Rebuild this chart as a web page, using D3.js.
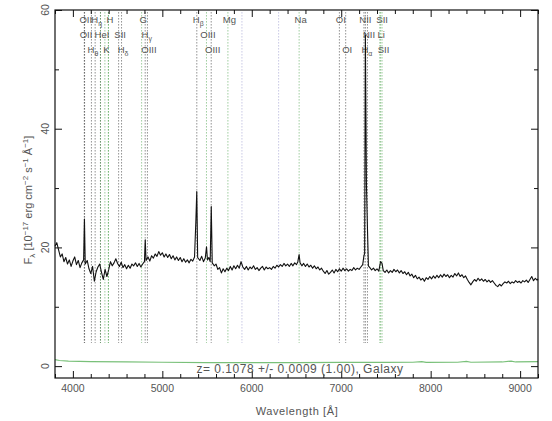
<!DOCTYPE html>
<html><head><meta charset="utf-8">
<script src="https://cdn.jsdelivr.net/npm/d3@7/dist/d3.min.js"></script>
<style>body{margin:0;background:#fff;} svg{display:block;}</style>
</head><body><svg id="c" width="552" height="421"></svg>
<script>
const redshift = 0.1078;
const zText = "z= 0.1078 +/- 0.0009 (1.00), Galaxy";
// observed wavelength [Å], flux [1e-17 erg/cm2/s/Å]
const spectrum = [
[3800,20.2],[3820,20.8],[3840,19.6],[3860,18.4],[3880,18.9],[3900,17.6],[3920,18.3],[3940,17.2],[3960,17.9],[3980,16.8],
[4000,17.7],[4020,18.4],[4040,17.1],[4060,17.8],[4080,16.6],[4100,17.4],[4120,17.9],[4129,24.8],[4138,17.2],[4160,17.8],
[4180,16.4],[4200,15.6],[4220,16.8],[4240,14.3],[4260,15.9],[4280,16.7],[4300,17.2],[4320,15.8],[4340,14.6],[4360,16.3],
[4380,15.1],[4400,16.2],[4420,17.6],[4440,16.9],[4460,17.4],[4480,18.1],[4500,17.3],[4520,16.8],[4540,17.5],[4560,16.6],
[4580,17.1],[4600,16.4],[4620,17.0],[4640,16.5],[4660,17.2],[4680,16.9],[4700,17.4],[4720,16.8],[4740,17.3],[4760,16.7],
[4780,17.2],[4800,17.6],[4809,21.3],[4818,17.8],[4840,18.4],[4860,17.7],[4880,18.6],[4900,18.2],[4920,18.9],[4940,18.5],
[4960,19.3],[4980,18.7],[5000,19.1],[5020,18.4],[5040,18.9],[5060,18.3],[5080,18.8],[5100,18.1],[5120,18.6],[5140,17.9],
[5160,18.4],[5180,17.8],[5200,18.3],[5220,17.6],[5240,18.1],[5260,17.5],[5280,17.9],[5300,17.4],[5320,18.0],[5340,17.7],
[5360,18.4],[5375,24.5],[5385,29.4],[5395,18.3],[5420,17.8],[5440,18.5],[5460,17.6],[5480,18.2],[5494,20.1],[5505,17.9],
[5520,18.3],[5535,17.6],[5547,26.9],[5558,17.4],[5580,16.9],[5600,17.2],[5620,16.3],[5640,16.6],[5660,15.7],[5680,16.4],
[5700,15.9],[5720,16.5],[5740,16.1],[5760,16.8],[5780,16.2],[5800,16.9],[5820,16.4],[5840,17.0],[5860,16.5],[5880,17.6],
[5900,16.7],[5920,16.3],[5940,16.8],[5960,16.2],[5980,16.7],[6000,16.4],[6020,16.9],[6040,16.3],[6060,16.6],[6080,16.1],
[6100,16.5],[6120,16.8],[6140,16.2],[6160,16.7],[6180,16.4],[6200,16.6],[6220,16.3],[6240,16.8],[6260,16.5],[6280,17.0],
[6300,16.7],[6320,17.1],[6340,16.8],[6360,17.3],[6380,16.9],[6400,17.2],[6420,16.8],[6440,17.3],[6460,16.9],[6480,17.4],
[6500,17.1],[6515,17.6],[6529,18.8],[6540,17.4],[6560,16.9],[6580,17.3],[6600,16.8],[6620,17.2],[6640,16.7],[6660,17.0],
[6680,16.5],[6700,16.9],[6720,16.4],[6740,16.7],[6760,16.2],[6780,16.5],[6800,16.0],[6820,15.6],[6840,16.1],[6860,15.5],
[6880,15.8],[6900,16.2],[6920,15.7],[6940,16.3],[6960,15.9],[6980,16.4],[7000,16.0],[7020,16.5],[7040,16.1],[7060,16.4],
[7080,16.0],[7100,16.3],[7120,16.1],[7140,16.6],[7160,16.2],[7180,16.5],[7200,16.3],[7220,16.7],[7240,17.1],[7254,18.6],
[7262,19.0],[7270,55.8],[7282,30.5],[7293,23.4],[7304,16.9],[7320,16.6],[7340,16.2],[7360,16.5],[7380,16.1],[7400,16.4],
[7420,16.0],[7440,17.6],[7456,17.3],[7470,16.1],[7490,15.8],[7510,16.2],[7530,15.7],[7550,16.1],[7570,15.8],[7590,16.3],
[7610,15.9],[7630,16.2],[7650,15.7],[7670,16.1],[7690,15.6],[7710,15.9],[7730,15.4],[7750,15.8],[7770,15.2],[7790,15.5],
[7810,14.9],[7830,15.3],[7850,14.7],[7870,15.0],[7890,14.5],[7910,14.8],[7930,14.3],[7950,14.9],[7970,14.6],[7990,15.1],
[8010,14.7],[8030,15.2],[8050,14.8],[8070,15.3],[8090,14.9],[8110,15.4],[8130,15.0],[8150,15.5],[8170,15.1],[8190,15.4],
[8210,14.9],[8230,15.3],[8250,15.0],[8270,15.6],[8290,15.2],[8310,15.7],[8330,15.1],[8350,15.4],[8370,14.9],[8390,15.2],
[8410,14.6],[8430,14.1],[8450,13.7],[8470,14.2],[8490,14.6],[8510,14.3],[8530,14.8],[8550,14.4],[8570,14.7],[8590,14.3],
[8610,14.6],[8630,14.2],[8650,14.5],[8670,14.1],[8690,14.4],[8710,14.0],[8730,13.6],[8750,13.4],[8770,13.8],[8790,13.5],
[8810,13.9],[8830,14.2],[8850,14.0],[8870,14.3],[8890,13.9],[8910,14.2],[8930,14.0],[8950,14.4],[8970,14.1],[8990,14.3],
[9010,14.0],[9030,14.4],[9050,14.2],[9070,14.5],[9090,14.1],[9110,14.6],[9130,15.1],[9150,14.4],[9170,14.8],[9190,14.5],[9200,14.7]
];
const errorSpectrum = [
[3800,1.1],[3850,0.95],[3950,0.85],[4200,0.75],[4600,0.7],[5000,0.65],[5500,0.6],[6000,0.6],[6500,0.6],[7000,0.62],
[7500,0.62],[7800,0.65],[7900,0.75],[7950,0.62],[8300,0.65],[8400,0.8],[8450,0.65],[8800,0.7],[8900,0.85],[8950,0.7],[9200,0.75]
];
// line markers: rest wavelength, label, subscript, label row, kind
const lineRest  = [3726.0,3728.8,3797.9,3835.4,3889.0,3933.7,3968.5,4072.3,4101.7,4304.4,4340.5,4363.2,4861.3,4958.9,5006.8,5175.3,5894.0,6300.3,6363.8,6548.1,6562.8,6583.6,6707.9,6716.4,6730.8];
const lineLabel = ["OII","OII","H","H","HeI","K","H","SII","H","G","H","OIII","H","OIII","OIII","Mg","Na","OI","OI","NII","H","NII","Li","SII","SII"];
const lineSub   = ["","","θ","η","","","","","δ","","γ","","β","","","","","","","","α","","","",""];
const lineRow   = [0,1,2,0,1,2,0,1,2,0,1,2,0,1,2,0,0,0,2,0,2,1,1,0,2];
const lineKind  = ["e","e","e","e","e","a","a","e","e","a","e","e","e","a","e","a","a","e","e","e","e","e","a","a","a"];
const extraRest = [3889.1, 3970.1];
const skyLines  = [5890, 6300];
const xMajor = [4000,5000,6000,7000,8000,9000];
const yMajor = [0,20,40,60];

const W=552,H=421, L=55,R=538,T=10,B=378;
const svg = d3.select("#c");
svg.append("rect").attr("width",W).attr("height",H).attr("fill","#fff");
const x = d3.scaleLinear().domain([3800,9200]).range([L,R]);
const y = d3.scaleLinear().domain([-2,60]).range([B,T]);
const font = "'Liberation Sans', Arial, sans-serif";

// marker lines
const lineTop = y(59.6), lineBot = y(3.9);
const g = svg.append("g");
function vline(xo, color){
  g.append("line").attr("x1",xo).attr("x2",xo).attr("y1",lineTop).attr("y2",lineBot)
    .attr("stroke", color).attr("stroke-opacity",0.75).attr("stroke-width",1).attr("stroke-dasharray","1,2");
}
lineRest.forEach((r,i)=> vline(x(r*(1+redshift)), lineKind[i]==="e" ? "#222" : "#3c9a3c"));
extraRest.forEach(r=> vline(x(r*(1+redshift)), "#3c9a3c"));
skyLines.forEach(s=> vline(x(s), "#8f8fc8"));
const rowY = [23,38,53];
lineRest.forEach((r,i)=>{
  const xo = x(r*(1+redshift));
  const t = g.append("text").attr("x",xo+1.5).attr("y",rowY[lineRow[i]]).attr("text-anchor","middle")
    .attr("font-family",font).attr("font-size",9.5).attr("fill","#555").text(lineLabel[i]);
  if(lineSub[i]) t.append("tspan").attr("font-size",7).attr("dy",3).text(lineSub[i]);
});

// error spectrum
svg.append("path").datum(errorSpectrum)
  .attr("d", d3.line().x(d=>x(d[0])).y(d=>y(d[1])))
  .attr("fill","none").attr("stroke","#79c079").attr("stroke-width",1.2);

// spectrum
svg.append("path").datum(spectrum)
  .attr("d", d3.line().x(d=>x(d[0])).y(d=>y(d[1])))
  .attr("fill","none").attr("stroke","#111").attr("stroke-width",1.1).attr("stroke-linejoin","round");

// axes
const xMinor = d3.range(3800,9201,200).filter(v=>v%1000!==0);
const yMinor = [10,30,50];
function ax(axisFn, scale, vals, size, tr){
  const a = svg.append("g").attr("transform",tr)
    .call(axisFn(scale).tickValues(vals).tickSize(size).tickFormat(""));
  a.select(".domain").remove();
  a.selectAll("line").attr("stroke","#111").attr("stroke-width",1);
  return a;
}
ax(d3.axisBottom, x, xMajor, -7, `translate(0,${B})`);
ax(d3.axisBottom, x, xMinor, -4, `translate(0,${B})`);
ax(d3.axisTop, x, xMajor, -7, `translate(0,${T})`);
ax(d3.axisTop, x, xMinor, -4, `translate(0,${T})`);
ax(d3.axisLeft, y, yMajor, -7, `translate(${L},0)`);
ax(d3.axisLeft, y, yMinor, -4, `translate(${L},0)`);
ax(d3.axisRight, y, yMajor, -7, `translate(${R},0)`);
ax(d3.axisRight, y, yMinor, -4, `translate(${R},0)`);
svg.append("rect").attr("x",L).attr("y",T).attr("width",R-L).attr("height",B-T)
  .attr("fill","none").attr("stroke","#111").attr("stroke-width",1.2);

// tick labels
svg.append("g").selectAll("text").data(xMajor).join("text")
  .attr("x",d=>x(d)).attr("y",B+14).attr("text-anchor","middle")
  .attr("font-family",font).attr("font-size",10.5).attr("fill","#555").text(d=>d);
svg.append("g").selectAll("text").data(yMajor).join("text")
  .attr("transform",d=>`translate(${L-6},${y(d)}) rotate(-90)`).attr("text-anchor","middle")
  .attr("font-family",font).attr("font-size",10.5).attr("fill","#555").text(d=>d);

// axis titles
svg.append("text").attr("x",297).attr("y",415).attr("text-anchor","middle")
  .attr("font-family",font).attr("font-size",11).attr("letter-spacing",0.6).attr("fill","#555").text("Wavelength [Å]");
const yl = svg.append("text").attr("transform","translate(32,200) rotate(-90)").attr("text-anchor","middle")
  .attr("font-family",font).attr("font-size",11).attr("fill","#555");
yl.append("tspan").text("F");
yl.append("tspan").attr("font-size",8).attr("dy",3).text("λ");
yl.append("tspan").attr("dy",-3).text(" [10");
yl.append("tspan").attr("font-size",8).attr("dy",-4).text("−17");
yl.append("tspan").attr("dy",4).text(" erg cm");
yl.append("tspan").attr("font-size",8).attr("dy",-4).text("−2");
yl.append("tspan").attr("dy",4).text(" s");
yl.append("tspan").attr("font-size",8).attr("dy",-4).text("−1");
yl.append("tspan").attr("dy",4).text(" Å");
yl.append("tspan").attr("font-size",8).attr("dy",-4).text("−1");
yl.append("tspan").attr("dy",4).text("]");

// redshift annotation
svg.append("text").attr("x",300).attr("y",373).attr("text-anchor","middle")
  .attr("font-family",font).attr("font-size",12).attr("letter-spacing",0.5).attr("fill","#555").text(zText);
</script></body></html>
